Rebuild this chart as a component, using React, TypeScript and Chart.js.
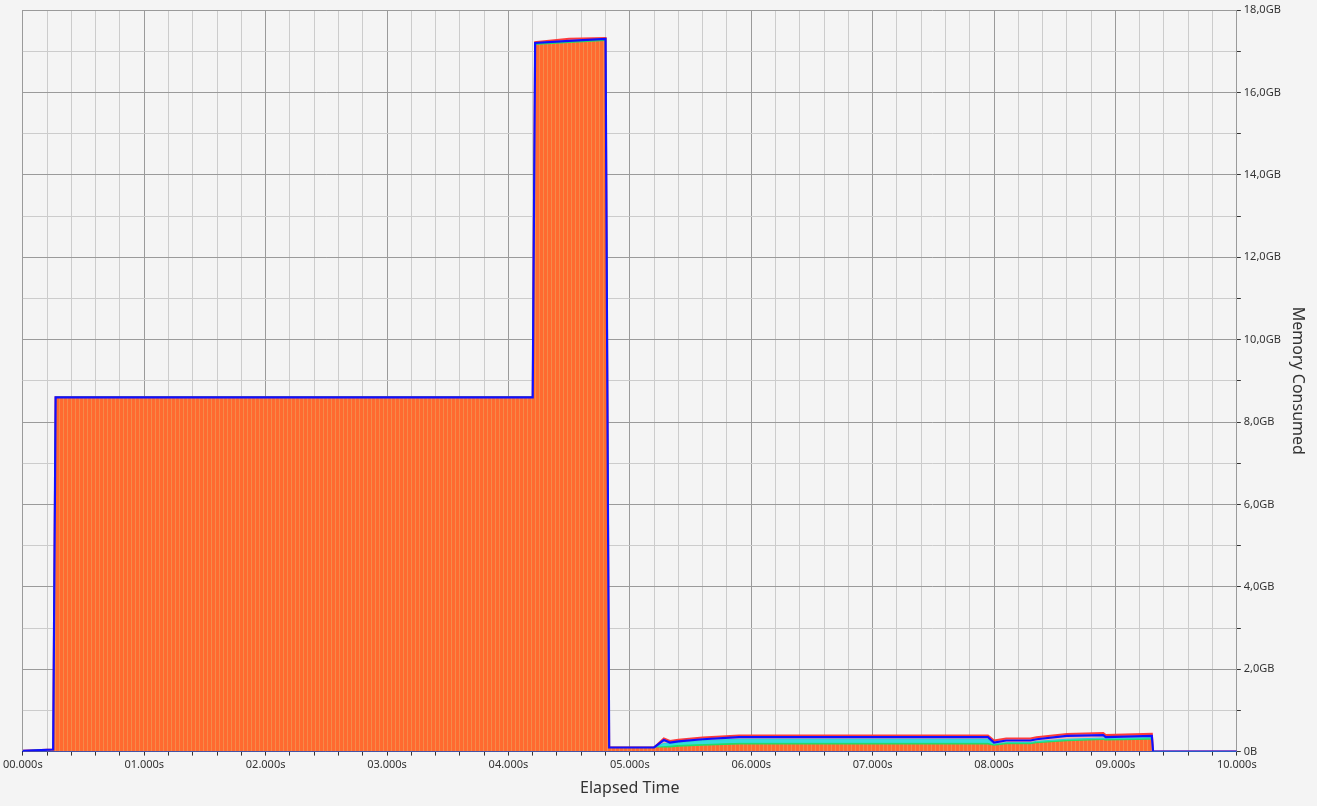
import React, { useEffect, useRef } from "react";
import { Chart, registerables } from "chart.js";
Chart.register(...registerables);

const times = [0, 0.25, 0.27, 4.2, 4.22, 4.5, 4.8, 4.83, 5.2, 5.28, 5.33, 5.4, 5.6, 5.9, 7.95, 8.0, 8.1, 8.3, 8.35, 8.6, 8.9, 8.92, 9.3, 9.31, 10];
const totalGB = [0.02, 0.05, 8.6, 8.6, 17.2, 17.25, 17.3, 0.1, 0.1, 0.28, 0.22, 0.25, 0.3, 0.35, 0.35, 0.22, 0.27, 0.27, 0.3, 0.38, 0.4, 0.35, 0.38, 0, 0];
const redGB = [0.02, 0.05, 8.6, 8.6, 17.22, 17.3, 17.32, 0.1, 0.1, 0.32, 0.26, 0.29, 0.34, 0.39, 0.39, 0.27, 0.32, 0.32, 0.35, 0.43, 0.45, 0.4, 0.43, 0, 0];
const cyanGB = [0.02, 0.05, 8.6, 8.6, 17.2, 17.25, 17.3, 0.1, 0.1, 0.2, 0.2, 0.22, 0.27, 0.3, 0.3, 0.18, 0.22, 0.22, 0.25, 0.3, 0.33, 0.32, 0.34, 0, 0];
const greenGB = [0.02, 0.05, 8.6, 8.6, 17.2, 17.25, 17.3, 0.1, 0.1, 0.12, 0.13, 0.15, 0.17, 0.2, 0.2, 0.16, 0.2, 0.2, 0.22, 0.27, 0.3, 0.29, 0.31, 0, 0];
const orangeGB = [0.02, 0.05, 8.6, 8.6, 17.15, 17.2, 17.25, 0.1, 0.1, 0.1, 0.1, 0.12, 0.14, 0.17, 0.17, 0.14, 0.18, 0.18, 0.2, 0.25, 0.28, 0.27, 0.29, 0, 0];

const pts = (arr: number[]) => times.map((t, i) => ({ x: t, y: arr[i] }));

export default function App() {
  const ref = useRef<HTMLCanvasElement>(null);
  useEffect(() => {
    const c = ref.current!;
    const pc = document.createElement("canvas");
    pc.width = 4; pc.height = 4;
    const px = pc.getContext("2d")!;
    px.fillStyle = "#ff6a30"; px.fillRect(0, 0, 4, 4);
    px.fillStyle = "#f58a4a"; px.fillRect(3, 0, 1, 4);
    const pattern = c.getContext("2d")!.createPattern(pc, "repeat")!;
    const font = { family: "Noto Sans", size: 11 };
    const chart = new Chart(c, {
      type: "line",
      data: {
        datasets: [
          { data: pts(redGB), borderColor: "#ff3b3b", borderWidth: 2, backgroundColor: "#f7b0b0", fill: "origin", pointRadius: 0, order: 5 },
          { data: pts(totalGB), borderColor: "#1010ff", borderWidth: 2.2, fill: false, pointRadius: 0, order: 0 },
          { data: pts(cyanGB), borderColor: "#22d5d5", borderWidth: 1, backgroundColor: "#33dddd", fill: "origin", pointRadius: 0, order: 3 },
          { data: pts(greenGB), borderColor: "#22dd66", borderWidth: 1, backgroundColor: "#22dd66", fill: "origin", pointRadius: 0, order: 2 },
          { data: pts(orangeGB), borderColor: "rgba(0,0,0,0)", borderWidth: 0, backgroundColor: pattern, fill: "origin", pointRadius: 0, order: 1 },
        ],
      },
      options: {
        animation: false,
        responsive: false,
        layout: { padding: { top: 10, right: 6, left: 0, bottom: 4 } },
        plugins: { legend: { display: false }, tooltip: { enabled: false } },
        scales: {
          x: {
            type: "linear", min: 0, max: 10,
            ticks: { stepSize: 0.2, autoSkip: false, maxRotation: 0, color: "#333", font,
              callback: (v: any) => Math.abs(v - Math.round(v)) < 1e-6 ? String(Math.round(v)).padStart(2, "0") + ".000s" : "" },
            grid: { color: (ctx: any) => Math.abs(ctx.tick.value - Math.round(ctx.tick.value)) < 1e-6 ? "#9a9a9a" : "#cccccc", tickColor: "#333", tickLength: 4 },
            border: { color: "#1010c0" },
            title: { display: true, text: "Elapsed Time", color: "#333", font: { family: "Noto Sans", size: 16 } },
          },
          y: {
            position: "right", min: 0, max: 18,
            ticks: { stepSize: 1, autoSkip: false, color: "#333", font,
              callback: (v: any) => v === 0 ? "0B" : v % 2 === 0 ? v.toFixed(1).replace(".", ",") + "GB" : "" },
            grid: { color: (ctx: any) => ctx.tick.value % 2 === 0 ? "#9a9a9a" : "#cccccc", tickColor: "#333", tickLength: 4 },
            border: { color: "#9a9a9a" },
            title: { display: true, text: "Memory Consumed", color: "#333", font: { family: "Noto Sans", size: 16 } },
          },
        },
      },
    });
    return () => chart.destroy();
  }, []);
  return (
    <div style={{ position: "fixed", left: 0, top: 0, width: 1317, height: 806, background: "#f4f4f4" }}>
      <canvas ref={ref} width={1317} height={806} style={{ display: "block" }} />
    </div>
  );
}
